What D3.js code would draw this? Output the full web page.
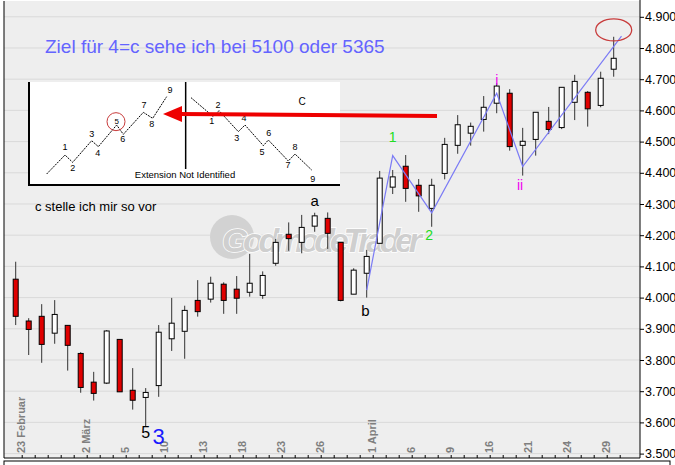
<!DOCTYPE html>
<html><head><meta charset="utf-8">
<script src="https://cdn.jsdelivr.net/npm/d3@7"></script>
<style>body{margin:0;background:#fff}svg{display:block;font-family:Arial,"Liberation Sans",sans-serif}</style>
</head><body><svg id="c" width="675" height="465"></svg>
<script>
const dates=["23 Februar","24","25","26","27","2 März","3","4","5","6","9","10","11","12","13","16","17","18","19","20","23","24","25","26","27","30","31","1 April","2","3","6","7","8","9","14","15","16","17","20","21","22","23","24","27","28","29","30"];
const opens =[4.059,3.925,3.940,3.886,3.911,3.821,3.729,3.726,3.866,3.703,3.680,3.718,3.868,3.892,3.991,3.995,4.043,4.027,4.017,4.007,4.110,4.203,4.177,4.229,4.254,4.177,4.011,4.078,4.174,4.354,4.421,4.360,4.286,4.398,4.488,4.527,4.571,4.623,4.655,4.488,4.507,4.565,4.545,4.626,4.658,4.616,4.732];
const highs =[4.115,3.934,3.979,3.992,3.911,3.825,3.762,3.896,3.866,3.774,3.710,3.912,3.999,3.974,4.056,4.067,4.049,4.069,4.140,4.084,4.188,4.241,4.265,4.272,4.273,4.177,4.094,4.153,4.406,4.409,4.457,4.380,4.381,4.512,4.585,4.561,4.646,4.687,4.668,4.544,4.594,4.611,4.674,4.714,4.662,4.724,4.836];
const lows  =[3.912,3.816,3.791,3.852,3.766,3.695,3.670,3.723,3.698,3.641,3.586,3.682,3.829,3.804,3.939,3.984,3.948,3.948,4.003,3.996,4.102,4.150,4.142,4.211,4.156,3.988,4.011,4.000,4.174,4.332,4.307,4.275,4.227,4.379,4.461,4.487,4.532,4.591,4.471,4.391,4.455,4.524,4.540,4.569,4.548,4.610,4.708];
const closes=[3.940,3.898,3.850,3.946,3.847,3.712,3.693,3.893,3.698,3.671,3.696,3.889,3.918,3.959,3.955,4.046,3.991,3.998,4.046,4.071,4.177,4.189,4.225,4.262,4.206,3.991,4.088,4.132,4.383,4.387,4.350,4.326,4.360,4.491,4.554,4.549,4.610,4.678,4.484,4.501,4.594,4.539,4.674,4.693,4.605,4.703,4.767];
const dateLabelIdx=[0,5,8,11,14,17,20,23,27,30,33,36,39,42,45];
const priceTicks=[3.5,3.6,3.7,3.8,3.9,4.0,4.1,4.2,4.3,4.4,4.5,4.6,4.7,4.8,4.9];
const waveIdx=[27,29,32,37,39,46.6];
const waveVal=[4.024,4.455,4.272,4.655,4.420,4.838];

const svg=d3.select("#c");
const x=d3.scaleLinear().domain([0,46]).range([15.7,613.7]);
const y=d3.scaleLinear().domain([3.5,4.9]).range([453.6,16.8]);
const L=4,R=640,T=1,B=458;
svg.append("rect").attr("x",0).attr("y",0).attr("width",675).attr("height",465).attr("fill","#fff");
svg.append("rect").attr("x",L).attr("y",T).attr("width",R-L).attr("height",B-T).attr("fill","#eeeeee");
svg.append("g").selectAll("line").data(priceTicks).join("line")
 .attr("x1",L).attr("x2",R).attr("y1",d=>y(d)).attr("y2",d=>y(d)).attr("stroke","#d9d9d9");
const ya=d3.axisRight(y).tickValues(priceTicks).tickSize(4).tickFormat(d3.format(".3f"));
const gy=svg.append("g").attr("transform",`translate(${R},0)`).call(ya);
gy.select(".domain").attr("d",`M0,0V${B}`).attr("stroke","#000");
gy.selectAll("text").attr("font-size",12.5).attr("fill","#000").attr("x",5).attr("font-family","Arial,'Liberation Sans',sans-serif");
svg.append("line").attr("x1",L).attr("x2",R).attr("y1",B).attr("y2",B).attr("stroke","#000");
svg.append("line").attr("x1",L).attr("x2",L).attr("y1",T).attr("y2",B).attr("stroke","#000");
svg.append("g").selectAll("line").data(d3.range(47)).join("line")
 .attr("x1",d=>x(d)+6.5).attr("x2",d=>x(d)+6.5).attr("y1",B-3).attr("y2",B).attr("stroke","#000");
svg.append("g").selectAll("text").data(dateLabelIdx).join("text")
 .attr("transform",d=>`translate(${x(d)+9},453) rotate(-90)`).attr("font-size",11).attr("font-weight","bold")
 .attr("fill","#7f7f7f").text(d=>dates[d]);
svg.append("rect").attr("x",L).attr("y",461).attr("width",R-L+30).attr("height",10).attr("fill","#fff").attr("stroke","#000");
const wm=svg.append("g");
wm.append("circle").attr("cx",232).attr("cy",237).attr("r",22).attr("fill","#d2d2d2");
wm.append("text").attr("x",222).attr("y",252).attr("font-size",34).attr("font-style","italic").attr("font-weight","bold")
 .attr("fill","#cfcfcf").attr("stroke","#ffffff").attr("stroke-width",1.5).attr("paint-order","stroke").attr("textLength",200).text("GodmodeTrader");
const cg=svg.append("g");
d3.range(47).forEach(i=>{
  const up=closes[i]>=opens[i];
  cg.append("line").attr("x1",x(i)).attr("x2",x(i)).attr("y1",y(highs[i])).attr("y2",y(lows[i])).attr("stroke","#333");
  const t=y(Math.max(opens[i],closes[i])),b=y(Math.min(opens[i],closes[i]));
  cg.append("rect").attr("x",x(i)-2.5).attr("y",t).attr("width",5).attr("height",Math.max(1,b-t))
   .attr("fill",up?"#fff":"#e00000").attr("stroke","#000").attr("stroke-width",1);
});
svg.append("path").datum(waveIdx.map((d,k)=>[x(d),y(waveVal[k])])).attr("d",d3.line()).attr("fill","none").attr("stroke","#7b7bf5").attr("stroke-width",1.2);
svg.append("ellipse").attr("cx",x(46.0)).attr("cy",y(4.858)).attr("rx",18).attr("ry",11).attr("fill","none").attr("stroke","#c83c3c").attr("stroke-width",1.3);
const lab=(t,xi,v,c,s)=>svg.append("text").attr("x",x(xi)).attr("y",y(v)).attr("text-anchor","middle").attr("font-size",s||14).attr("fill",c).text(t);
lab("1",29,4.50,"#22dd22");lab("2",31.8,4.185,"#22dd22");lab("i",37,4.68,"#ee00ee");lab("ii",38.8,4.345,"#ee00ee");
lab("a",23,4.295,"#000",15);lab("b",26.9,3.94,"#000",15);lab("5",10,3.55,"#000",16);lab("3",11,3.53,"#1a1aff",22);
svg.append("text").attr("x",45).attr("y",53).attr("font-size",19).attr("fill","#6464ff").text("Ziel für 4=c sehe ich bei 5100 oder 5365");
svg.append("text").attr("x",35).attr("y",211).attr("font-size",13).attr("fill","#000").text("c stelle ich mir so vor");
const ix=z=>20+z/3, iy=z=>75+z/3;
const ins=svg.append("g");
ins.append("rect").attr("x",28).attr("y",82).attr("width",312).attr("height",104).attr("fill","#fff");
ins.append("path").attr("d","M29,82V185H340").attr("fill","none").attr("stroke","#000").attr("stroke-width",2);
ins.append("line").attr("x1",ix(497)).attr("x2",ix(497)).attr("y1",82).attr("y2",iy(282)).attr("stroke","#000").attr("stroke-width",1.5);
const lw=[[80,297],[135,240],[158,262],[215,197],[235,215],[290,150],[310,178],[370,112],[398,130],[440,65]];
const rw=[[513,68],[580,125],[597,107],[655,170],[675,150],[730,212],[745,195],[805,258],[825,237],[875,285]];
[lw,rw].forEach(w=>ins.append("path").datum(w.map(p=>[ix(p[0]),iy(p[1])])).attr("d",d3.line()).attr("fill","none").attr("stroke","#000").attr("stroke-width",1).attr("stroke-dasharray","2,1"));
const ll=[["1",135,225],["2",158,288],["3",215,186],["4",233,243],["6",308,202],["7",372,98],["8",395,155],["9",450,55]];
const rl=[["1",575,148],["2",594,99],["3",650,198],["4",672,138],["5",726,240],["6",746,182],["7",804,280],["8",825,225],["9",878,320]];
ll.concat(rl).forEach(d=>ins.append("text").attr("x",ix(d[1])).attr("y",iy(d[2])).attr("text-anchor","middle").attr("font-size",9).text(d[0]));
ins.append("text").attr("x",ix(846)).attr("y",iy(90)).attr("font-size",10).attr("text-anchor","middle").text("C");
ins.append("text").attr("x",ix(495)).attr("y",iy(310)).attr("font-size",9.5).attr("text-anchor","middle").text("Extension Not Identified");
ins.append("circle").attr("cx",ix(288)).attr("cy",iy(140)).attr("r",9).attr("fill","none").attr("stroke","#c83c3c");
ins.append("text").attr("x",ix(290)).attr("y",iy(148)).attr("font-size",8).attr("text-anchor","middle").text("5");
svg.append("line").attr("x1",437).attr("x2",178).attr("y1",116).attr("y2",114).attr("stroke","#ee0000").attr("stroke-width",4);
svg.append("path").attr("d","M163,114L182,106L182,122Z").attr("fill","#ee0000");
</script></body></html>
